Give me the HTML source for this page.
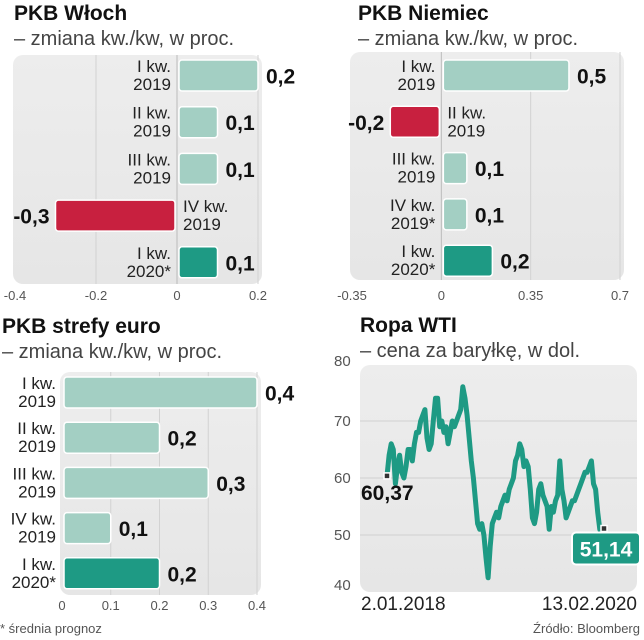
<!DOCTYPE html>
<html><head><meta charset="utf-8"><style>
html,body{margin:0;padding:0;background:#fff;}
svg{display:block;font-family:"Liberation Sans",sans-serif;}
.t{font-weight:bold;font-size:21px;fill:#111;}
.s{font-size:20px;fill:#444;}
.tk{font-size:13px;fill:#555;}
.cat{font-size:17px;fill:#222;}
.val{font-weight:bold;font-size:21px;fill:#111;}
</style></head><body>
<svg id="c" width="644" height="640" viewBox="0 0 644 640">
<defs><linearGradient id="bg" x1="0" y1="0" x2="0" y2="1"><stop offset="0" stop-color="#ededed"/><stop offset="1" stop-color="#e6e6e6"/></linearGradient></defs>
<text class="t" x="14" y="20">PKB Włoch</text>
<text class="s" x="14" y="45">– zmiana kw./kw, w proc.</text>
<text class="t" x="358" y="20">PKB Niemiec</text>
<text class="s" x="358" y="45">– zmiana kw./kw, w proc.</text>
<text class="t" x="2" y="333">PKB strefy euro</text>
<text class="s" x="2" y="358">– zmiana kw./kw, w proc.</text>
<text class="t" x="360" y="332">Ropa WTI</text>
<text class="s" x="360" y="357">– cena za baryłkę, w dol.</text>
<text x="0" y="633" font-size="13" fill="#555">* średnia prognoz</text>
<text x="640" y="633" font-size="13" fill="#555" text-anchor="end">Źródło: Bloomberg</text>
</svg>
<script>
const itCats=[["I kw.","2019"],["II kw.","2019"],["III kw.","2019"],["IV kw.","2019"],["I kw.","2020*"]];
const itVals=[0.2,0.1,0.1,-0.3,0.1];
const itTicks=[-0.4,-0.2,0,0.2];
const deCats=[["I kw.","2019"],["II kw.","2019"],["III kw.","2019"],["IV kw.","2019*"],["I kw.","2020*"]];
const deVals=[0.5,-0.2,0.1,0.1,0.2];
const deTicks=[-0.35,0,0.35,0.7];
const euCats=[["I kw.","2019"],["II kw.","2019"],["III kw.","2019"],["IV kw.","2019"],["I kw.","2020*"]];
const euVals=[0.4,0.2,0.3,0.1,0.2];
const euTicks=[0,0.1,0.2,0.3,0.4];
const wtiVals=[60.37,64,66,65,59,62,64,61,60,62,65,65,63,66,68,68,70,71,72,67,65,66,70,74,74,69,70,68,69,66,68,70,69,70,71,72,76,74,71,67,63,60,56,52,51,52,50,46,42.5,48,52,53,54,53,55,56,57,56,58,59,60,63,64,66,65,62,63,62,58,53,52,54,58,59,57,56,55,51,55,54,56,57,63,58,56,53,54,55,56,56,57,58,59,60,61,61,62,63,59,58,54,51,50,51.14];
const wtiTicks=[40,50,60,70,80];
const wtiDates=["2.01.2018","13.02.2020"];

const svg=document.getElementById('c');
const NS="http://www.w3.org/2000/svg";
function mk(tag,attrs,parent){const e=document.createElementNS(NS,tag);for(const k in attrs)e.setAttribute(k,attrs[k]);(parent||svg).appendChild(e);return e;}
function fmt(v){return String(v).replace('.',',');}

function barChart(cfg){
  const {cats,vals,ticks,min,max,x0,x1,py0,py1,rowY,rowPitch,barH,tickY,prefix,catLeft}=cfg;
  const sx=v=>x0+(v-min)/(max-min)*(x1-x0);
  const bg=mk('rect',{x:x0-2,y:py0,width:x1-x0+6,height:py1-py0,rx:10,fill:'url(#bg)'});
  
  
  ticks.forEach(t=>{
    const gx=sx(t);
    if(t!==min){const l=mk('line',{x1:gx,x2:gx,y1:py0,y2:py1,stroke:t===0?'#bbb':'#d2d2d2','stroke-width':1});
      
      }
    const tx=mk('text',{x:gx,y:tickY,'text-anchor':'middle',class:'tk'});
    tx.textContent=String(t);
    
    
  });
  const z=sx(0);
  vals.forEach((v,i)=>{
    const y=rowY+i*rowPitch;
    const last=i===vals.length-1;
    const fill=v<0?'#c8203f':(last?'#1e9a84':'#a3cfc3');
    const bx=v<0?sx(v):z+2;
    const bw=Math.abs(sx(v)-z)-2;
    const r=mk('rect',{x:bx,y:y,width:Math.max(bw,2),height:barH,rx:3,fill:fill,stroke:'#fff','stroke-width':1.5});
    
    
    const vt=mk('text',{class:'val',x:v<0?bx-6:bx+bw+8,y:y+barH/2+8,'text-anchor':v<0?'end':'start'});
    vt.textContent=fmt(v);
    
    
    let cx,anchor;
    if(catLeft){cx=x0-6;anchor='end';}
    else if(v<0){cx=z+6;anchor='start';}
    else{cx=z-6;anchor='end';}
    const ct=mk('text',{class:'cat',x:cx,y:y+12,'text-anchor':anchor});
    const a=mk('tspan',{x:cx},ct);a.textContent=cats[i][0];
    const b=mk('tspan',{x:cx,dy:18},ct);b.textContent=cats[i][1];
    
    
  });
}
barChart({prefix:'italy',cats:itCats,vals:itVals,ticks:itTicks,min:-0.4,max:0.2,x0:15,x1:258,py0:55,py1:284,rowY:60,rowPitch:46.7,barH:31,tickY:300});
barChart({prefix:'germany',cats:deCats,vals:deVals,ticks:deTicks,min:-0.35,max:0.7,x0:352,x1:620,py0:52,py1:280,rowY:60,rowPitch:46.3,barH:31,tickY:300});
barChart({prefix:'eurozone',cats:euCats,vals:euVals,ticks:euTicks,min:0,max:0.4,x0:62,x1:257,py0:372,py1:595,rowY:377,rowPitch:45.2,barH:31,tickY:610,catLeft:true});

(function(){
  const x0=387,x1=604,px0=360,px1=637,yTop=364,yBot=592,vmin=40,vmax=80;
  const sy=v=>yBot-(v-vmin)/(vmax-vmin)*(yBot-yTop);
  const sx=i=>x0+i/(wtiVals.length-1)*(x1-x0);
  const bg=mk('rect',{x:px0,y:365,width:px1-px0,height:227,rx:10,fill:'url(#bg)'});
  
  
  wtiTicks.forEach(t=>{
    if(t>40&&t<80){const l=mk('line',{x1:px0,x2:px1,y1:sy(t),y2:sy(t),stroke:'#d0d0d0','stroke-width':1});
      
      }
    const tx=mk('text',{x:334,y:sy(t)+(t===80?2:t===40?-2:5),class:'tk'});
    tx.setAttribute('style','font-size:15px');
    tx.textContent=String(t);
    
    
  });
  const pts=wtiVals.map((v,i)=>sx(i).toFixed(1)+','+sy(v).toFixed(1)).join(' ');
  const pl=mk('polyline',{points:pts,fill:'none',stroke:'#1e9a84','stroke-width':5,'stroke-linejoin':'round'});
  
  
  const n=wtiVals.length-1;
  const m1=mk('rect',{x:sx(0)-3,y:sy(wtiVals[0])-3,width:6,height:6,fill:'#333',stroke:'#fff','stroke-width':1.5});
  
  
  const m2=mk('rect',{x:sx(n)-3,y:sy(wtiVals[n])-3,width:6,height:6,fill:'#333',stroke:'#fff','stroke-width':1.5});
  
  
  const sl=mk('text',{x:361,y:sy(wtiVals[0])+24,class:'val'});
  sl.textContent=fmt(wtiVals[0]);
  
  
  const box=mk('rect',{x:572,y:sy(wtiVals[n])+4,width:68,height:32,rx:4,fill:'#1e9a84',stroke:'#fff','stroke-width':2});
  
  
  const el=mk('text',{x:606,y:sy(wtiVals[n])+28,'text-anchor':'middle',class:'val'});
  el.setAttribute('style','fill:#fff');
  el.textContent=fmt(wtiVals[n]);
  
  
  const d1=mk('text',{x:361,y:610,'font-size':19,fill:'#222'});
  d1.textContent=wtiDates[0];
  
  
  const d2=mk('text',{x:637,y:610,'font-size':19,fill:'#222','text-anchor':'end'});
  d2.textContent=wtiDates[1];
  
  
})();
</script>
</body></html>
